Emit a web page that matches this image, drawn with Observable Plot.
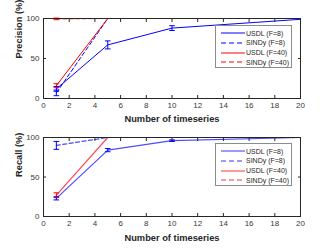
<!DOCTYPE html>
<html><head><meta charset="utf-8">
<script src="https://cdn.jsdelivr.net/npm/d3@7"></script>
<script src="https://cdn.jsdelivr.net/npm/@observablehq/plot@0.6"></script>
<style>
body{margin:0;background:#fff;font-family:"Liberation Sans",Arial,Helvetica,sans-serif}
#fig{position:relative;width:332px;height:249px;overflow:hidden;background:#fff}
.panel{position:absolute;left:0}
.legend{position:absolute;left:215px;width:75px;height:41px;border:1px solid #8c8c8c;background:#fff;font-size:7px;color:#262626;box-sizing:content-box}
.row{position:absolute;left:4px;height:10px;display:flex;align-items:center;white-space:nowrap}
.row svg{display:block;margin-right:1px;flex:none}
</style>
</head><body><div id="fig"></div>
<script>
// ---- data ----
const timeseries = [1, 5, 10, 20];
const xTicks = [0, 2, 4, 6, 8, 10, 12, 14, 16, 18, 20];
const yTicks = [0, 50, 100];
const seriesNames = ["USDL (F=8)", "SINDy (F=8)", "USDL (F=40)", "SINDy (F=40)"];
const seriesColors = ["#0000ff", "#0000ff", "#ff0000", "#ff0000"];
const seriesDash = ["none", "4,2.5", "none", "4,2.5"];

// Precision (%)
const precUSDL8 = [12, 67, 88, 99];
const precUSDL8Err = [3, 5, 3, 0];
const precSINDy8 = [7, 100, 100, 100];
const precSINDy8Err = [3.5, 0, 0, 0];
const precUSDL40 = [16, 100, 100, 100];
const precUSDL40Err = [2.5, 0, 0, 0];
const precSINDy40 = [99.5, 100, 100, 100];
const precSINDy40Err = [1, 0, 0, 0];

// Recall (%)
const recUSDL8 = [23, 84, 96, 100];
const recUSDL8Err = [2, 2, 1, 0];
const recSINDy8 = [90, 100, 100, 100];
const recSINDy8Err = [5, 0, 0, 0];
const recUSDL40 = [27, 100, 100, 100];
const recUSDL40Err = [3, 0, 0, 0];
const recSINDy40 = [100, 100, 100, 100];
const recSINDy40Err = [0, 0, 0, 0];

const xLabel = "Number of timeseries";

function buildRows(valueSets, errSets) {
  const rows = [];
  valueSets.forEach((vals, i) => {
    vals.forEach((v, j) => rows.push({s: i, x: timeseries[j], y: v, e: errSets[i][j]}));
  });
  return rows;
}

function panel(valueSets, errSets, yLabel, opt) {
  const rows = buildRows(valueSets, errSets);
  const errRows = rows.filter(d => d.e > 0);
  const capHalf = 0.22;
  const marks = [];
  seriesNames.forEach((n, i) => {
    marks.push(Plot.line(rows.filter(d => d.s === i), {
      x: "x", y: "y", stroke: seriesColors[i], strokeWidth: opt.lineWidth,
      strokeOpacity: opt.lineOpacity, strokeDasharray: seriesDash[i]
    }));
  });
  marks.push(
    Plot.link(errRows, {x1: "x", x2: "x", y1: d => d.y - d.e, y2: d => d.y + d.e, stroke: d => seriesColors[d.s], strokeWidth: 1}),
    Plot.link(errRows, {x1: d => d.x - capHalf, x2: d => d.x + capHalf, y1: d => d.y - d.e, y2: d => d.y - d.e, stroke: d => seriesColors[d.s], strokeWidth: 1}),
    Plot.link(errRows, {x1: d => d.x - capHalf, x2: d => d.x + capHalf, y1: d => d.y + d.e, y2: d => d.y + d.e, stroke: d => seriesColors[d.s], strokeWidth: 1}),
    Plot.frame({stroke: "#262626", strokeWidth: 1}),
    Plot.axisX({anchor: "bottom", ticks: xTicks, tickSize: -3, tickPadding: 7, fontSize: 8, fill: "#3a3a3a", label: null}),
    Plot.axisX({anchor: "top", ticks: xTicks, tickSize: -3, tickFormat: () => "", label: null}),
    Plot.axisY({anchor: "left", ticks: yTicks, tickSize: -3, tickPadding: 7, fontSize: 8, fill: "#3a3a3a", label: null}),
    Plot.axisY({anchor: "right", ticks: yTicks, tickSize: -3, tickFormat: () => "", label: null}),
    Plot.text([xLabel], {text: d => d, frameAnchor: "bottom", lineAnchor: "middle", dy: opt.xLabelDy, fontWeight: "bold", fontSize: 9.3, fill: "#262626"}),
    Plot.text([yLabel], {text: d => d, frameAnchor: "left", rotate: -90, dx: -24, fontWeight: "bold", fontSize: 9.3, fill: "#262626"})
  );
  return Plot.plot({
    width: 332, height: 125,
    marginTop: opt.mt, marginBottom: opt.mb, marginLeft: 43, marginRight: 32,
    x: {domain: [0, 20]},
    y: {domain: [0, 100]},
    style: {fontFamily: "Liberation Sans, Arial, sans-serif", color: "#262626", background: "transparent", overflow: "visible"},
    marks
  });
}

function legend(top, opacity, width) {
  const box = document.createElement("div");
  box.className = "legend";
  box.style.top = top + "px";
  seriesNames.forEach((n, i) => {
    const r = document.createElement("div");
    r.className = "row";
    r.style.top = (2 + i * 9.8) + "px";
    r.innerHTML = `<svg width="25" height="4"><line x1="1" x2="25" y1="2" y2="2" stroke="${seriesColors[i]}" stroke-width="${width}" stroke-opacity="${opacity}" stroke-dasharray="${seriesDash[i] === "none" ? "none" : "5,3"}"/></svg><span>${n}</span>`;
    box.appendChild(r);
  });
  return box;
}

const fig = document.getElementById("fig");
const p1 = panel([precUSDL8, precSINDy8, precUSDL40, precSINDy40],
                 [precUSDL8Err, precSINDy8Err, precUSDL40Err, precSINDy40Err],
                 "Precision (%)", {mt: 18, mb: 27, xLabelDy: 21, lineWidth: 1, lineOpacity: 1});
p1.classList.add("panel"); p1.style.top = "0px";
fig.appendChild(p1);
const p2 = panel([recUSDL8, recSINDy8, recUSDL40, recSINDy40],
                 [recUSDL8Err, recSINDy8Err, recUSDL40Err, recSINDy40Err],
                 "Recall (%)", {mt: 13, mb: 33, xLabelDy: 22, lineWidth: 1.2, lineOpacity: 0.7});
p2.classList.add("panel"); p2.style.top = "124px";
fig.appendChild(p2);
fig.appendChild(legend(25, 1, 1));
fig.appendChild(legend(143, 0.4, 2));
</script>
</body></html>
